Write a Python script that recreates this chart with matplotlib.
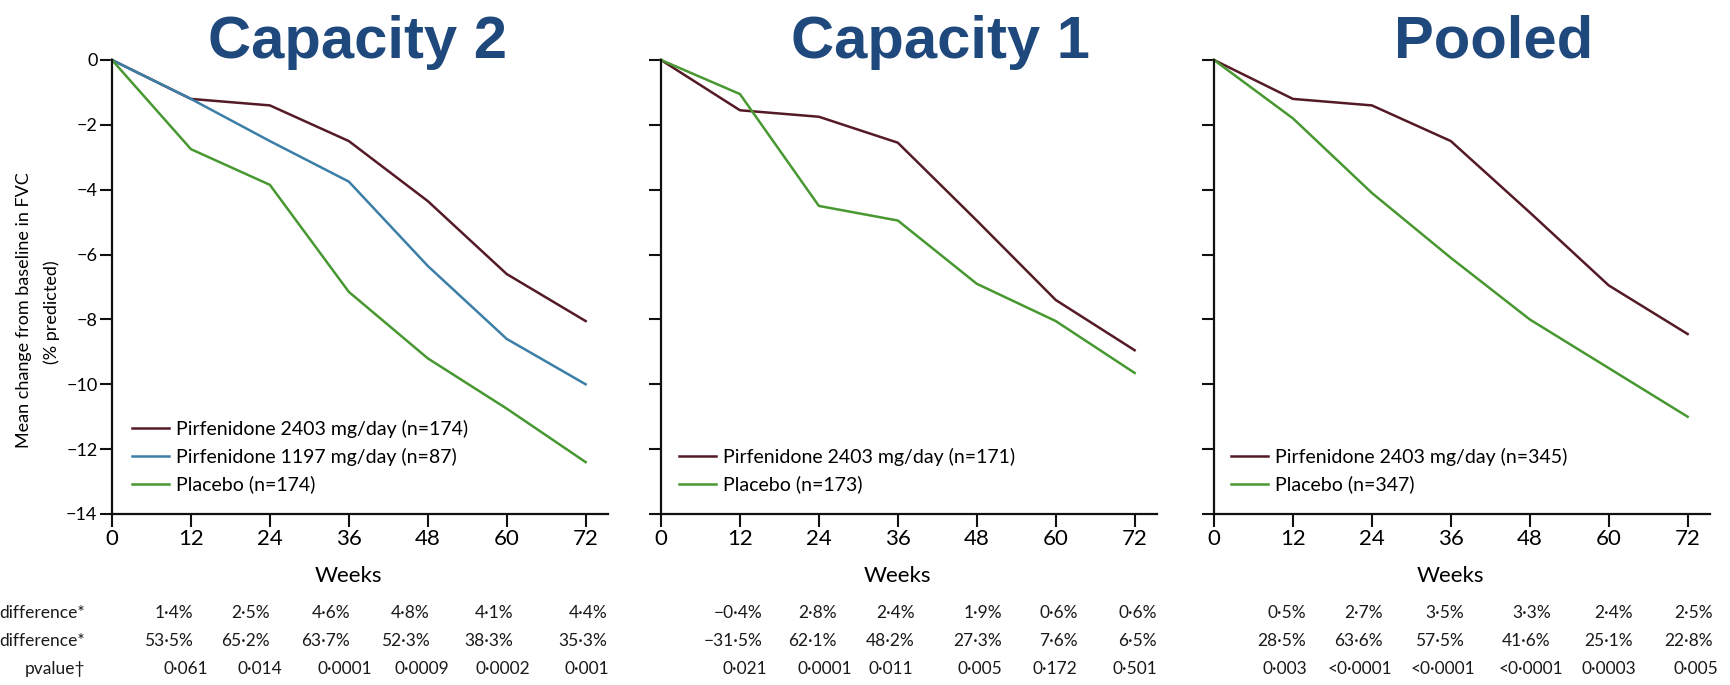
import matplotlib
matplotlib.use("Agg")
import matplotlib.pyplot as plt
import matplotlib.transforms as mtransforms
from matplotlib import font_manager

plt.rcParams["font.family"] = ["Lato", "DejaVu Sans"]

_installed = {f.name for f in font_manager.fontManager.ttflist}
TABLE_FONT = "Liberation Sans Narrow" if "Liberation Sans Narrow" in _installed else "Lato"

# ---- data -------------------------------------------------------------
weeks = [0, 12, 24, 36, 48, 60, 72]

cap2_pirf2403 = [0, -1.2, -1.4, -2.5, -4.35, -6.6, -8.05]
cap2_pirf1197 = [0, -1.2, -2.5, -3.75, -6.35, -8.6, -10.0]
cap2_placebo = [0, -2.75, -3.85, -7.15, -9.2, -10.75, -12.4]

cap1_pirf2403 = [0, -1.55, -1.75, -2.55, -4.95, -7.4, -8.95]
cap1_placebo = [0, -1.05, -4.5, -4.95, -6.9, -8.05, -9.65]

pooled_pirf2403 = [0, -1.2, -1.4, -2.5, -4.7, -6.95, -8.45]
pooled_placebo = [0, -1.8, -4.1, -6.1, -8.0, -9.5, -11.0]

titles = ["Capacity 2", "Capacity 1", "Pooled"]

labels_cap2 = ["Pirfenidone 2403 mg/day (n=174)",
               "Pirfenidone 1197 mg/day (n=87)",
               "Placebo (n=174)"]
labels_cap1 = ["Pirfenidone 2403 mg/day (n=171)", "Placebo (n=173)"]
labels_pooled = ["Pirfenidone 2403 mg/day (n=345)", "Placebo (n=347)"]

abs_diff_cap2 = ["1·4%", "2·5%", "4·6%", "4·8%", "4·1%", "4·4%"]
rel_diff_cap2 = ["53·5%", "65·2%", "63·7%", "52·3%", "38·3%", "35·3%"]
pval_cap2 = ["0·061", "0·014", "0·0001", "0·0009", "0·0002", "0·001"]

abs_diff_cap1 = ["\u22120·4%", "2·8%", "2·4%", "1·9%", "0·6%", "0·6%"]
rel_diff_cap1 = ["\u221231·5%", "62·1%", "48·2%", "27·3%", "7·6%", "6·5%"]
pval_cap1 = ["0·021", "0·0001", "0·011", "0·005", "0·172", "0·501"]

abs_diff_pooled = ["0·5%", "2·7%", "3·5%", "3·3%", "2·4%", "2·5%"]
rel_diff_pooled = ["28·5%", "63·6%", "57·5%", "41·6%", "25·1%", "22·8%"]
pval_pooled = ["0·003", "<0·0001", "<0·0001", "<0·0001", "0·0003", "0·005"]

row_labels = ["difference*", "difference*", "pvalue\u2020"]

# ---- styling ----------------------------------------------------------
C_2403 = "#541a25"
C_1197 = "#3b7fa7"
C_PLAC = "#489832"
TITLE_BLUE = "#1F497D"

W, H = 1731, 685
fig = plt.figure(figsize=(W / 100, H / 100), dpi=100)

XMAX = 75.4
ax_left_px = [112, 661, 1214]
ax_width_px = 496
ax_top_px, ax_bot_px = 60, 514

# column anchors (in weeks) for the table under each panel
right_cols = [[12.3, 24.0, 36.2, 48.3, 61.0, 75.3],
              [15.5, 26.7, 38.6, 51.8, 63.4, 75.4],
              [14.0, 25.7, 38.0, 51.2, 63.7, 75.8]]
left_cols_p = [[7.8, 19.1, 31.2, 43.0, 55.2, 68.8],
               [9.3, 20.7, 31.5, 45.0, 56.5, 68.7],
               [7.4, 17.3, 29.9, 43.2, 55.8, 69.8]]
title_x_px = [358, 940, 1494]
legend_x = [0.040, 0.036, 0.034]

series = [
    [(cap2_pirf2403, C_2403), (cap2_pirf1197, C_1197), (cap2_placebo, C_PLAC)],
    [(cap1_pirf2403, C_2403), (cap1_placebo, C_PLAC)],
    [(pooled_pirf2403, C_2403), (pooled_placebo, C_PLAC)],
]
legend_labels = [labels_cap2, labels_cap1, labels_pooled]
tables = [
    [abs_diff_cap2, rel_diff_cap2, pval_cap2],
    [abs_diff_cap1, rel_diff_cap1, pval_cap1],
    [abs_diff_pooled, rel_diff_pooled, pval_pooled],
]
row_y_px = [613, 641, 669]
TABLE_SIZE = 12.5

for i in range(3):
    ax = fig.add_axes([ax_left_px[i] / W, (H - ax_bot_px) / H,
                       ax_width_px / W, (ax_bot_px - ax_top_px) / H])
    handles = []
    for (vals, col), lab in zip(series[i], legend_labels[i]):
        ln, = ax.plot(weeks, vals, color=col, lw=1.8, label=lab,
                      solid_joinstyle="round", clip_on=False)
        handles.append(ln)

    ax.set_xlim(0, XMAX)
    ax.set_ylim(-14, 0)
    ax.set_xticks(weeks)
    ax.set_yticks(range(-14, 1, 2))
    for s in ("top", "right"):
        ax.spines[s].set_visible(False)
    for s in ("left", "bottom"):
        ax.spines[s].set_linewidth(1.6)
        ax.spines[s].set_color("#111111")
    ax.tick_params(axis="both", direction="out", length=9, width=1.5,
                   color="#111111", pad=1.5)
    ax.tick_params(axis="x", labelsize=16)
    ax.tick_params(axis="y", labelsize=13)
    if i > 0:
        ax.tick_params(axis="y", labelleft=False)

    ax.set_xlabel("Weeks", fontsize=16)
    ax.xaxis.set_label_coords(36 / XMAX, -0.115)

    ax.legend(handles=handles, loc="lower left",
              bbox_to_anchor=(legend_x[i], 0.045), frameon=False,
              fontsize=14, handlelength=1.9, handletextpad=0.35,
              labelspacing=0.5, borderpad=0, borderaxespad=0)

    fig.text(title_x_px[i] / W, (H - 58) / H, titles[i], ha="center",
             va="baseline", fontsize=43, fontweight="bold",
             color=TITLE_BLUE, family=["Liberation Sans", "DejaVu Sans"])

    trans = mtransforms.blended_transform_factory(ax.transData, fig.transFigure)
    for r, row in enumerate(tables[i]):
        yf = (H - row_y_px[r]) / H
        for c, txt in enumerate(row):
            if r < 2:
                ax.text(right_cols[i][c], yf, txt, transform=trans,
                        ha="right", va="center", fontsize=TABLE_SIZE,
                        family=[TABLE_FONT, "DejaVu Sans"],
                        color="#1a1a1a", clip_on=False)
            else:
                ax.text(left_cols_p[i][c], yf, txt, transform=trans,
                        ha="left", va="center", fontsize=TABLE_SIZE,
                        family=[TABLE_FONT, "DejaVu Sans"],
                        color="#1a1a1a", clip_on=False)

# row headings of the table
for r, lab in enumerate(row_labels):
    fig.text(85 / W, (H - row_y_px[r]) / H, lab, ha="right", va="center",
             fontsize=TABLE_SIZE, family=[TABLE_FONT, "DejaVu Sans"],
             color="#1a1a1a")

# y-axis title
fig.text(24 / W, (H - 310) / H, "Mean change from baseline in FVC",
         rotation=90, ha="center", va="center", fontsize=13)
fig.text(52 / W, (H - 312) / H, "(% predicted)",
         rotation=90, ha="center", va="center", fontsize=13)

fig.savefig("out.png", dpi=100, facecolor="white")
